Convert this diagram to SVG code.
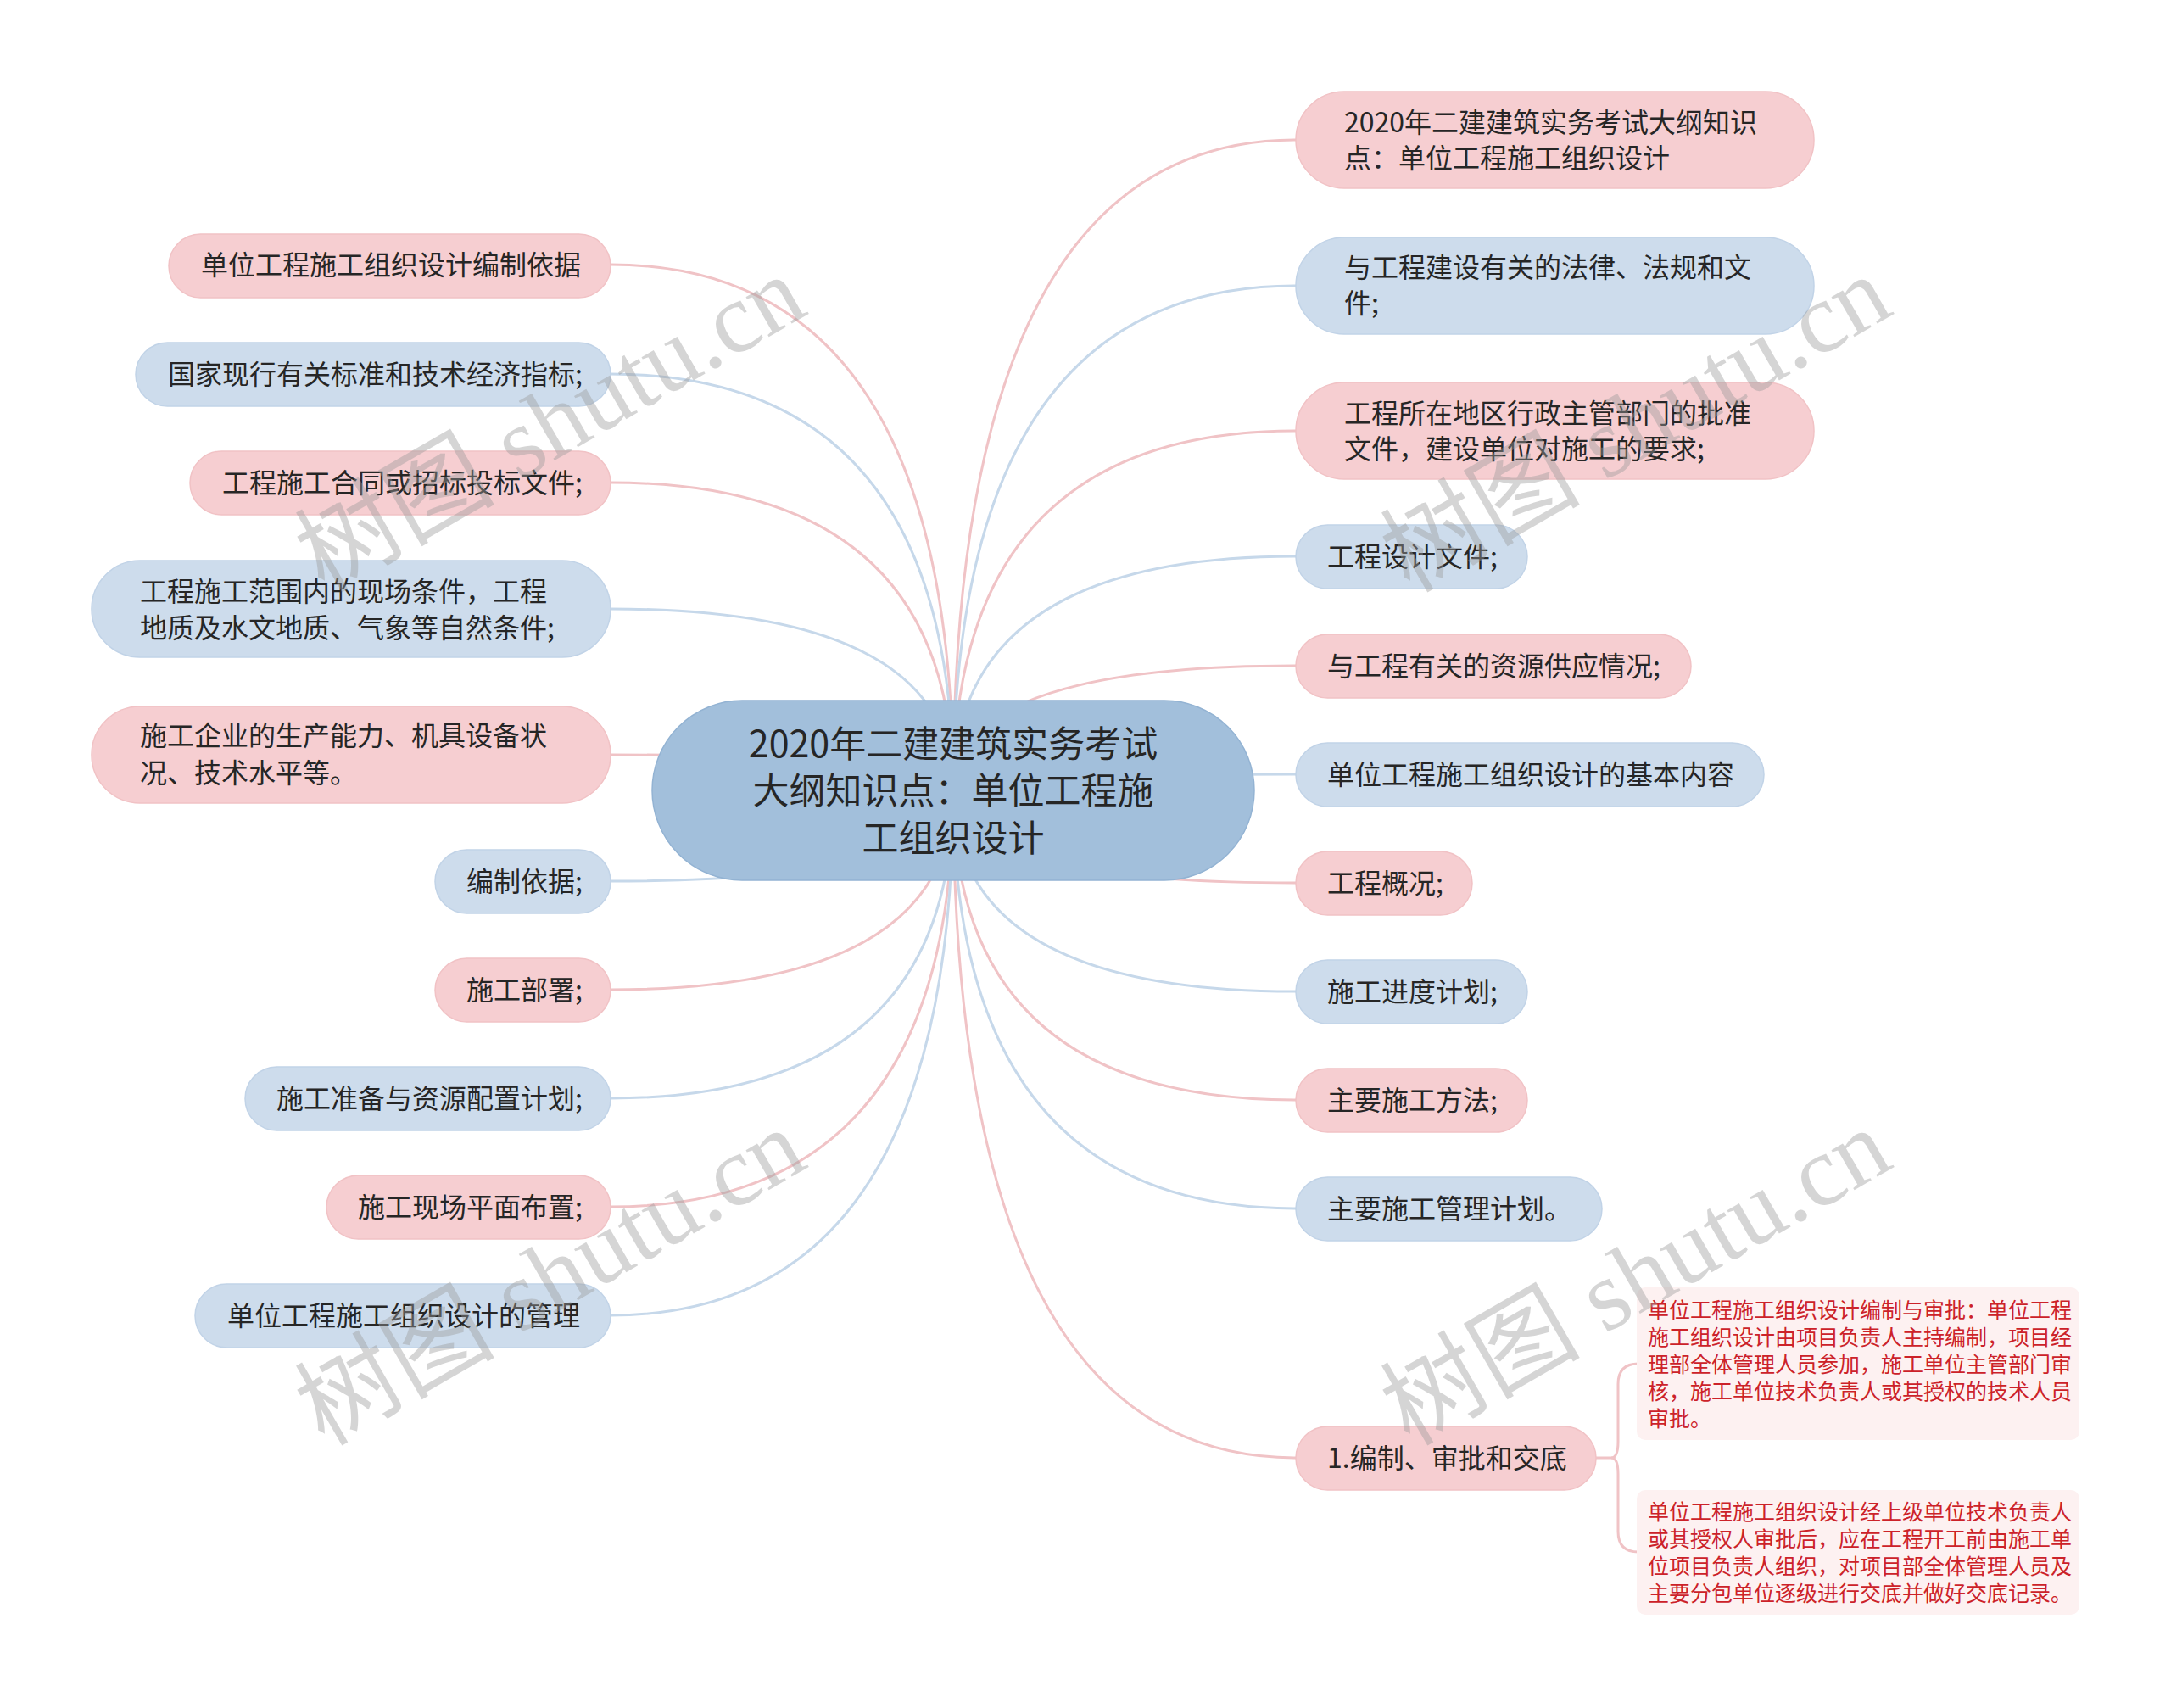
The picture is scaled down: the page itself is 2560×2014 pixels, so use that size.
<svg xmlns="http://www.w3.org/2000/svg" width="2560" height="2014" viewBox="0 0 2560 2014">
<style>
.bg{fill:#ffffff}
.lp{fill:none;stroke:#f0c3c6;stroke-width:3}
.lb{fill:none;stroke:#c6d8ea;stroke-width:3}
.np{fill:#f6ced1;stroke:#f1c2c5;stroke-width:1.5}
.nb{fill:#cddcec;stroke:#c1d3e7;stroke-width:1.5}
.nc{fill:#a2bfdb;stroke:#93b3d3;stroke-width:1.5}
.t{font-family:"Noto Sans CJK SC","Noto Sans",sans-serif;font-size:32px;fill:#262626}
.tc{font-family:"Noto Sans CJK SC","Noto Sans",sans-serif;font-size:43px;fill:#262626;text-anchor:middle}
.cb{fill:#fdf1f1}
.tr{font-family:"Noto Sans CJK SC","Noto Sans",sans-serif;font-size:25px;fill:#cc2229}
.wm{font-family:"Liberation Serif","Noto Sans CJK SC",serif;font-size:118px;fill:#9a9a9a;fill-opacity:0.42}
</style>
<rect class="bg" x="0" y="0" width="2560" height="2014"/>
<g id="connectors">
<path class="lp" d="M1124,932 Q1124,165 1528,165"/>
<path class="lb" d="M1124,932 Q1124,337 1528,337"/>
<path class="lp" d="M1124,932 Q1124,508 1528,508"/>
<path class="lb" d="M1124,932 Q1124,656 1528,656"/>
<path class="lp" d="M1124,932 Q1124,785 1528,785"/>
<path class="lb" d="M1124,932 Q1124,913 1528,913"/>
<path class="lp" d="M1124,932 Q1124,1041 1528,1041"/>
<path class="lb" d="M1124,932 Q1124,1169 1528,1169"/>
<path class="lp" d="M1124,932 Q1124,1297 1528,1297"/>
<path class="lb" d="M1124,932 Q1124,1425 1528,1425"/>
<path class="lp" d="M1124,932 Q1124,1719 1528,1719"/>
<path class="lp" d="M1124,932 Q1124,312 720,312"/>
<path class="lb" d="M1124,932 Q1124,441 720,441"/>
<path class="lp" d="M1124,932 Q1124,569 720,569"/>
<path class="lb" d="M1124,932 Q1124,718 720,718"/>
<path class="lp" d="M1124,932 Q1124,890 720,890"/>
<path class="lb" d="M1124,932 Q1124,1039 720,1039"/>
<path class="lp" d="M1124,932 Q1124,1167 720,1167"/>
<path class="lb" d="M1124,932 Q1124,1295 720,1295"/>
<path class="lp" d="M1124,932 Q1124,1423 720,1423"/>
<path class="lb" d="M1124,932 Q1124,1551 720,1551"/>
<path class="lp" d="M1882,1719 H1900 Q1908,1719 1908,1700 V1632 Q1908,1608 1932,1608"/>
<path class="lp" d="M1900,1719 Q1908,1719 1908,1738 V1806 Q1908,1830 1932,1830"/>
</g>
<g id="center">
<rect class="nc" x="769" y="826" width="710" height="212" rx="106"/>
<text class="tc" x="1124" y="893">2020年二建建筑实务考试</text>
<text class="tc" x="1124" y="948">大纲知识点：单位工程施</text>
<text class="tc" x="1124" y="1004">工组织设计</text>
</g>
<g id="r1"><rect class="np" x="1528" y="108" width="611" height="114" rx="57"/><text class="t" x="1585" y="156">2020年二建建筑实务考试大纲知识</text><text class="t" x="1585" y="198">点：单位工程施工组织设计</text></g>
<g id="r2"><rect class="nb" x="1528" y="280" width="611" height="114" rx="57"/><text class="t" x="1585" y="327">与工程建设有关的法律、法规和文</text><text class="t" x="1585" y="369">件;</text></g>
<g id="r3"><rect class="np" x="1528" y="451" width="611" height="114" rx="57"/><text class="t" x="1585" y="499">工程所在地区行政主管部门的批准</text><text class="t" x="1585" y="541">文件，建设单位对施工的要求;</text></g>
<g id="r4"><rect class="nb" x="1528" y="619" width="273" height="75" rx="37.5"/><text class="t" x="1565" y="668">工程设计文件;</text></g>
<g id="r5"><rect class="np" x="1528" y="748" width="466" height="75" rx="37.5"/><text class="t" x="1565" y="797">与工程有关的资源供应情况;</text></g>
<g id="r6"><rect class="nb" x="1528" y="876" width="552" height="75" rx="37.5"/><text class="t" x="1565" y="925">单位工程施工组织设计的基本内容</text></g>
<g id="r7"><rect class="np" x="1528" y="1004" width="208" height="75" rx="37.5"/><text class="t" x="1565" y="1053">工程概况;</text></g>
<g id="r8"><rect class="nb" x="1528" y="1132" width="273" height="75" rx="37.5"/><text class="t" x="1565" y="1181">施工进度计划;</text></g>
<g id="r9"><rect class="np" x="1528" y="1260" width="273" height="75" rx="37.5"/><text class="t" x="1565" y="1309">主要施工方法;</text></g>
<g id="r10"><rect class="nb" x="1528" y="1388" width="361" height="75" rx="37.5"/><text class="t" x="1565" y="1437">主要施工管理计划。</text></g>
<g id="r11"><rect class="np" x="1528" y="1682" width="354" height="75" rx="37.5"/><text class="t" x="1565" y="1731">1.编制、审批和交底</text></g>
<g id="c1"><rect class="cb" x="1930" y="1518" width="522" height="180" rx="10"/>
<text class="tr" x="1943" y="1554">单位工程施工组织设计编制与审批：单位工程</text>
<text class="tr" x="1943" y="1586">施工组织设计由项目负责人主持编制，项目经</text>
<text class="tr" x="1943" y="1618">理部全体管理人员参加，施工单位主管部门审</text>
<text class="tr" x="1943" y="1650">核，施工单位技术负责人或其授权的技术人员</text>
<text class="tr" x="1943" y="1682">审批。</text></g>
<g id="c2"><rect class="cb" x="1930" y="1757" width="522" height="147" rx="10"/>
<text class="tr" x="1943" y="1792">单位工程施工组织设计经上级单位技术负责人</text>
<text class="tr" x="1943" y="1824">或其授权人审批后，应在工程开工前由施工单</text>
<text class="tr" x="1943" y="1856">位项目负责人组织，对项目部全体管理人员及</text>
<text class="tr" x="1943" y="1888">主要分包单位逐级进行交底并做好交底记录。</text></g>
<g id="l1"><rect class="np" x="199" y="276" width="521" height="75" rx="37.5"/><text class="t" x="237" y="324">单位工程施工组织设计编制依据</text></g>
<g id="l2"><rect class="nb" x="160" y="404" width="560" height="75" rx="37.5"/><text class="t" x="198" y="453">国家现行有关标准和技术经济指标;</text></g>
<g id="l3"><rect class="np" x="224" y="532" width="496" height="75" rx="37.5"/><text class="t" x="262" y="581">工程施工合同或招标投标文件;</text></g>
<g id="l4"><rect class="nb" x="108" y="661" width="612" height="114" rx="57"/><text class="t" x="165" y="709">工程施工范围内的现场条件，工程</text><text class="t" x="165" y="752">地质及水文地质、气象等自然条件;</text></g>
<g id="l5"><rect class="np" x="108" y="833" width="612" height="114" rx="57"/><text class="t" x="165" y="879">施工企业的生产能力、机具设备状</text><text class="t" x="165" y="923">况、技术水平等。</text></g>
<g id="l6"><rect class="nb" x="513" y="1002" width="207" height="75" rx="37.5"/><text class="t" x="550" y="1051">编制依据;</text></g>
<g id="l7"><rect class="np" x="513" y="1130" width="207" height="75" rx="37.5"/><text class="t" x="550" y="1179">施工部署;</text></g>
<g id="l8"><rect class="nb" x="289" y="1258" width="431" height="75" rx="37.5"/><text class="t" x="326" y="1307">施工准备与资源配置计划;</text></g>
<g id="l9"><rect class="np" x="385" y="1386" width="335" height="75" rx="37.5"/><text class="t" x="422" y="1435">施工现场平面布置;</text></g>
<g id="l10"><rect class="nb" x="230" y="1514" width="490" height="75" rx="37.5"/><text class="t" x="268" y="1563">单位工程施工组织设计的管理</text></g>
<g id="watermarks">
<text class="wm" transform="translate(382,700) rotate(-30)">树图 shutu.cn</text>
<text class="wm" transform="translate(382,1706) rotate(-30)">树图 shutu.cn</text>
<text class="wm" transform="translate(1662,700) rotate(-30)">树图 shutu.cn</text>
<text class="wm" transform="translate(1662,1706) rotate(-30)">树图 shutu.cn</text>
</g>
</svg>
